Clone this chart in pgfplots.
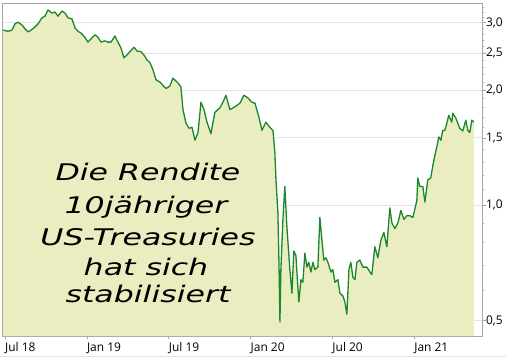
\documentclass[border=0pt]{standalone}
\usepackage{fontspec}
\setmainfont{Open Sans}
\newfontfamily\hand{DejaVu Sans}
\usepackage{graphicx}
\usepackage{pgfplots}
\pgfplotsset{compat=1.18}
\usepackage{pgfplotstable}
\definecolor{fillc}{RGB}{234,237,192}
\definecolor{linec}{RGB}{28,134,46}
\definecolor{gridc}{RGB}{228,228,228}
\definecolor{framec}{RGB}{165,165,165}
\pgfplotstableread{
m v
-0.15 2.87
0.22 2.85
0.51 2.87
0.73 2.98
0.95 3.01
1.25 2.96
1.47 2.89
1.69 2.84
1.91 2.87
2.13 2.91
2.42 2.98
2.71 3.09
2.93 3.12
3.15 3.24
3.45 3.18
3.67 3.20
3.88 3.12
4.18 3.22
4.40 3.18
4.62 3.09
4.91 3.07
5.13 2.91
5.35 2.85
5.57 2.82
5.86 2.75
6.08 2.67
6.38 2.74
6.60 2.79
6.82 2.75
7.04 2.67
7.33 2.69
7.55 2.67
7.77 2.67
8.06 2.77
8.28 2.67
8.50 2.58
8.72 2.43
8.94 2.47
9.16 2.52
9.46 2.59
9.68 2.53
9.97 2.52
10.19 2.47
10.41 2.40
10.63 2.36
10.85 2.26
11.07 2.13
11.36 2.10
11.58 2.06
11.80 2.02
12.09 2.05
12.31 2.15
12.68 2.09
12.90 2.04
13.05 1.78
13.27 1.64
13.49 1.59
13.71 1.60
13.93 1.48
14.15 1.55
14.37 1.86
14.59 1.78
14.81 1.65
15.10 1.54
15.39 1.75
15.76 1.80
15.98 1.86
16.20 1.94
16.49 1.78
16.86 1.81
17.23 1.85
17.52 1.94
17.81 1.91
18.11 1.86
18.33 1.85
18.62 1.70
18.84 1.57
19.13 1.65
19.42 1.60
19.65 1.57
19.79 1.37
19.87 1.165
20.01 0.96
20.09 0.71
20.16 0.496
20.23 0.68
20.38 0.92
20.52 1.12
20.67 0.88
20.74 0.81
20.89 0.68
21.04 0.59
21.18 0.76
21.33 0.74
21.48 0.61
21.55 0.56
21.70 0.64
21.84 0.63
21.99 0.75
22.14 0.69
22.28 0.71
22.43 0.67
22.58 0.71
22.72 0.68
22.94 0.69
23.09 0.93
23.24 0.81
23.38 0.72
23.53 0.73
23.68 0.71
23.90 0.67
24.04 0.68
24.19 0.63
24.41 0.64
24.56 0.59
24.78 0.58
24.92 0.56
25.07 0.52
25.22 0.68
25.36 0.71
25.51 0.65
25.66 0.64
25.80 0.71
26.02 0.72
26.24 0.69
26.54 0.69
26.76 0.67
26.90 0.66
27.12 0.78
27.34 0.73
27.56 0.81
27.78 0.85
28.00 0.78
28.22 0.985
28.37 0.90
28.59 0.87
28.81 0.90
29.03 0.97
29.25 0.92
29.47 0.94
29.69 0.94
29.91 0.93
30.20 1.03
30.27 1.18
30.42 1.12
30.64 1.12
30.79 1.02
31.00 1.165
31.22 1.18
31.37 1.27
31.52 1.35
31.66 1.42
31.81 1.51
31.96 1.48
32.10 1.57
32.25 1.57
32.40 1.64
32.54 1.72
32.76 1.65
32.84 1.74
33.06 1.69
33.20 1.64
33.35 1.59
33.57 1.565
33.79 1.67
33.94 1.57
34.08 1.55
34.23 1.67
34.38 1.65
}\yields
\begin{document}
\begin{tikzpicture}
\path[use as bounding box] (0,0) rectangle (506bp,-357bp);
\begin{axis}[
  at={(2.7bp,-336bp)}, anchor=south west,
  scale only axis, width=479.6bp, height=332.5bp,
  ymode=log, log origin y=infty,
  xmin=-0.169, xmax=35.0,
  ymin=0.456, ymax=3.368,
  xtick={0,6,12,18,24,30},
  xticklabels={Jul 18,Jan 19,Jul 19,Jan 20,Jul 20,Jan 21},
  ytick={0.5,1,1.5,2,2.5,3},
  yticklabels={{0,5},{1,0},{1,5},{2,0},{2,5},{3,0}},
  minor ytick={0.6,0.7,0.8,0.9,1.1,1.2,1.3,1.4,1.6,1.7,1.8,1.9,2.1,2.2,2.3,2.4,2.6,2.7,2.8,2.9,3.1,3.2,3.3},
  xtick pos=bottom, ytick pos=right, yticklabel pos=right,
  tick align=outside,
  major tick length=3.5bp, minor tick length=2bp,
  tick style={framec, line width=0.6bp},
  minor tick style={gray!70, line width=0.5bp},
  ymajorgrids, grid style={gridc, line width=1bp},
  axis line style={framec, line width=0.9bp},
  xticklabel style={anchor=north west, inner sep=0pt, yshift=-3bp, font=\fontsize{12}{14}\selectfont},
  yticklabel style={anchor=west, inner sep=0pt, xshift=0bp, font=\fontsize{12}{14}\selectfont},
]
\addplot[fill=fillc, draw=none] table[x=m, y=v] {\yields} \closedcycle;
\addplot[linec, line width=1.3bp, line join=round] table[x=m, y=v] {\yields};
\end{axis}
\draw[gridc, line width=1bp] (0,-356.5bp) -- (506bp,-356.5bp);
\begin{scope}[every node/.style={anchor=base, inner sep=0pt, font=\hand\itshape\fontsize{23}{28}\selectfont}]
\node at (148bp,-180bp) {\scalebox{1.38}[1]{Die Rendite}};
\node at (146bp,-213bp) {\scalebox{1.38}[1]{10jähriger}};
\node at (148bp,-245bp) {\scalebox{1.38}[1]{US-Treasuries}};
\node at (146bp,-275bp) {\scalebox{1.38}[1]{hat sich}};
\node at (148bp,-302bp) {\scalebox{1.38}[1]{stabilisiert}};
\end{scope}
\end{tikzpicture}
\end{document}
